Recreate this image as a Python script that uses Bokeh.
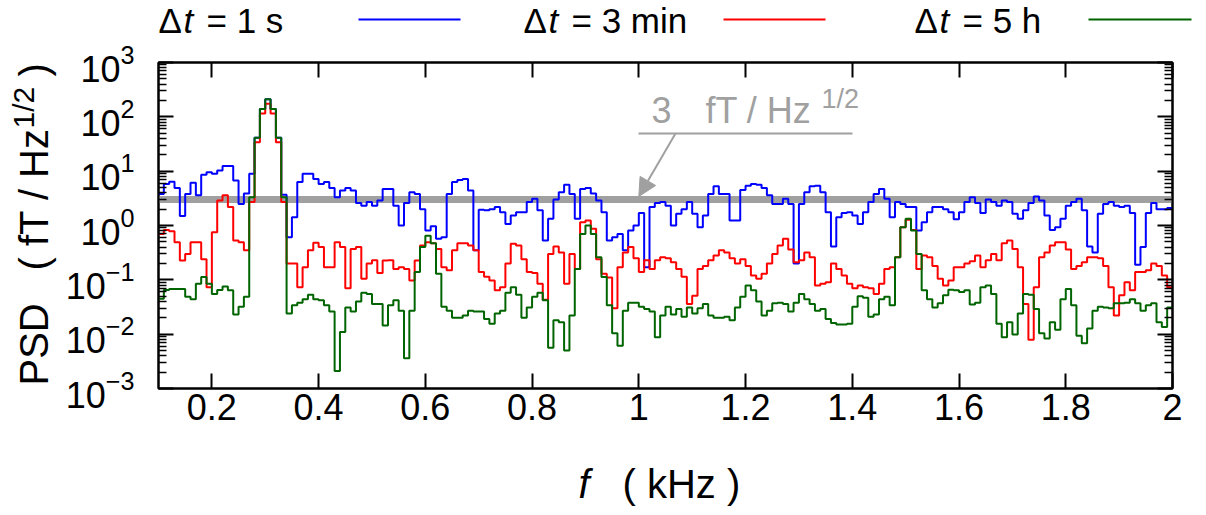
import math
from bokeh.plotting import figure
from bokeh.layouts import column, row
from bokeh.models import (Range1d, LinearAxis, LogAxis, FixedTicker, Plot,
                          CustomJSTickFormatter, Label, Arrow, NormalHead)
from bokeh.embed import file_html
from bokeh.resources import INLINE

# ---------------- data ----------------
freq = [round(0.10 + 0.01 * i, 2) for i in range(190)]   # bin start (kHz)
freq_end = 2.0

psd_1s = [
    3.8, 5.8, 6.4, 4.9, 1.5, 3.8, 6.1, 3.6, 8.6, 9.6,
    9.0, 10.3, 12.4, 12.4, 6.7, 2.5, 3.9, 9.0, 41, 140,
    210, 140, 41, 3.7, 0.61, 1.42, 6.3, 9.0, 9.0, 7.2,
    5.8, 6.3, 4.9, 3.3, 4.4, 4.9, 4.4, 2.6, 2.3, 2.7,
    2.3, 2.9, 4.7, 4.7, 2.3, 1.0, 2.6, 4.1, 3.8, 2.0,
    0.81, 0.97, 0.57, 0.61, 3.8, 6.3, 6.9, 7.2, 4.4, 0.35,
    1.94, 1.9, 2.0, 2.2, 1.76, 1.07, 1.53, 1.76, 1.76, 2.7,
    3.1, 1.9, 0.53, 1.33, 3.0, 4.1, 5.6, 3.8, 1.33, 4.7,
    4.9, 3.9, 2.9, 1.76, 0.53, 0.61, 0.70, 0.35, 0.81, 1.0,
    1.7, 0.17, 2.2, 2.6, 2.7, 2.3, 1.0, 1.65, 2.0, 2.7,
    1.65, 0.93, 1.53, 3.8, 5.3, 3.8, 3.8, 1.24, 1.24, 4.5,
    5.4, 5.8, 5.6, 4.9, 3.6, 2.5, 2.5, 3.1, 2.5, 0.20,
    2.5, 4.1, 5.3, 5.4, 4.1, 1.76, 0.41, 1.42, 1.7, 1.76,
    1.53, 1.07, 1.76, 2.7, 3.8, 4.7, 3.1, 1.42, 2.7, 2.5,
    2.2, 2.2, 0.81, 1.15, 1.76, 2.2, 2.2, 2.0, 1.76, 1.3,
    1.76, 2.7, 3.3, 2.6, 1.7, 3.0, 2.7, 2.3, 2.9, 2.7,
    1.65, 1.33, 1.9, 2.6, 3.4, 2.9, 1.53, 0.83, 0.93, 1.33,
    2.3, 2.7, 3.1, 1.9, 0.41, 0.32, 1.65, 2.5, 2.7, 2.3,
    2.2, 2.3, 1.7, 0.19, 0.40, 1.7, 2.6, 2.0, 2.0, 2.1,
]

psd_3min = [
    0.70, 0.83, 0.78, 0.49, 0.227, 0.30, 0.49, 0.49, 0.24, 0.073,
    0.75, 2.9, 3.6, 2.2, 0.53, 0.49, 0.35, 2.7, 34, 115,
    175, 115, 34, 2.7, 0.20, 0.20, 0.073, 0.17, 0.35, 0.48,
    0.40, 0.17, 0.17, 0.49, 0.40, 0.07, 0.37, 0.40, 0.105, 0.20,
    0.23, 0.133, 0.227, 0.23, 0.158, 0.171, 0.158, 0.097, 0.227, 0.43,
    0.49, 0.47, 0.37, 0.17, 0.15, 0.35, 0.47, 0.47, 0.43, 0.35,
    0.14, 0.114, 0.097, 0.064, 0.073, 0.20, 0.46, 0.43, 0.24, 0.14,
    0.133, 0.085, 0.043, 0.30, 0.41, 0.32, 0.085, 0.30, 0.158, 1.15,
    1.24, 0.87, 0.24, 0.13, 0.11, 0.03, 0.17, 0.32, 0.40, 0.25,
    0.14, 0.23, 0.158, 0.23, 0.26, 0.25, 0.21, 0.158, 0.114, 0.036,
    0.051, 0.158, 0.18, 0.23, 0.28, 0.35, 0.32, 0.25, 0.20, 0.24,
    0.18, 0.12, 0.105, 0.129, 0.20, 0.30, 0.43, 0.57, 0.36, 0.21,
    0.23, 0.32, 0.26, 0.079, 0.085, 0.09, 0.20, 0.158, 0.12, 0.085,
    0.07, 0.079, 0.073, 0.07, 0.055, 0.085, 0.158, 0.17, 0.26, 0.93,
    1.27, 0.83, 0.158, 0.28, 0.26, 0.18, 0.105, 0.079, 0.097, 0.17,
    0.17, 0.20, 0.22, 0.28, 0.17, 0.23, 0.30, 0.23, 0.47, 0.53,
    0.37, 0.17, 0.036, 0.0079, 0.073, 0.26, 0.32, 0.43, 0.49, 0.49,
    0.36, 0.158, 0.18, 0.21, 0.26, 0.26, 0.25, 0.18, 0.073, 0.022,
    0.052, 0.09, 0.064, 0.14, 0.14, 0.15, 0.20, 0.18, 0.12, 0.073,
]

psd_5h = [
    0.045, 0.065, 0.068, 0.068, 0.068, 0.049, 0.044, 0.085, 0.113, 0.085,
    0.055, 0.065, 0.075, 0.064, 0.023, 0.032, 0.049, 3.3, 41, 140,
    210, 140, 41, 3.3, 0.024, 0.034, 0.038, 0.044, 0.053, 0.044,
    0.042, 0.034, 0.026, 0.0021, 0.011, 0.031, 0.026, 0.040, 0.058, 0.055,
    0.036, 0.036, 0.0145, 0.034, 0.042, 0.027, 0.0036, 0.027, 0.14, 0.40,
    0.65, 0.47, 0.129, 0.032, 0.027, 0.02, 0.02, 0.022, 0.027, 0.026,
    0.026, 0.019, 0.0155, 0.024, 0.027, 0.058, 0.073, 0.053, 0.02, 0.031,
    0.049, 0.058, 0.042, 0.0056, 0.018, 0.0166, 0.005, 0.022, 0.158, 0.70,
    1.0, 0.70, 0.26, 0.113, 0.034, 0.0104, 0.0061, 0.027, 0.038, 0.038,
    0.032, 0.029, 0.026, 0.0088, 0.022, 0.032, 0.023, 0.029, 0.021, 0.031,
    0.024, 0.030, 0.036, 0.022, 0.02, 0.02, 0.021, 0.018, 0.031, 0.049,
    0.079, 0.064, 0.040, 0.022, 0.027, 0.037, 0.038, 0.036, 0.026, 0.038,
    0.055, 0.044, 0.036, 0.027, 0.029, 0.019, 0.016, 0.015, 0.015, 0.0155,
    0.032, 0.05, 0.047, 0.021, 0.023, 0.044, 0.049, 0.034, 0.26, 0.93,
    1.33, 0.81, 0.30, 0.064, 0.044, 0.031, 0.037, 0.052, 0.066, 0.064,
    0.06, 0.064, 0.035, 0.038, 0.073, 0.079, 0.055, 0.0155, 0.0088, 0.0166,
    0.0099, 0.024, 0.055, 0.053, 0.029, 0.0104, 0.0083, 0.0166, 0.012, 0.044,
    0.068, 0.034, 0.0094, 0.0068, 0.0127, 0.027, 0.032, 0.031, 0.030, 0.037,
    0.037, 0.038, 0.044, 0.037, 0.027, 0.034, 0.037, 0.0166, 0.0136, 0.031,
]

series_labels = ["1 s", "3 min", "5 h"]
series_colors = ["#0000ff", "#ff0000", "#006400"]
ref_level = 3.0
ref_label = "fT / Hz"
x_ticks = [0.2, 0.4, 0.6, 0.8, 1.0, 1.2, 1.4, 1.6, 1.8, 2.0]
y_exponents = [-3, -2, -1, 0, 1, 2, 3]

# ---------------- layout (page pixels) ----------------
FONT = "Liberation Sans"
FS, FS_SUP = 36, 27            # tick / annotation font sizes (px)
FS_LEG = 35                    # legend font size (px)
FT_T, FT_SUP = 40, 30          # axis-title font sizes (px)
MID = 0.3465                   # alphabetic baseline -> box middle (x size)
GRAY = "#a0a0a0"
TOTAL_W = 1200
LEG_H = 40                      # legend strip: page y 0..40
MID_TOP, MID_H = 40, 408        # middle row: page y 40..448
YT_W = 60                       # y-title strip: page x 0..60
XT_TOP, XT_H = 448, 62          # x-title strip: page y 448..510
FL, FR, FT, FB = 158, 1172, 62, 388   # plot frame in page px
X0, X1 = 0.1, 2.0
E0, E1 = -3, 3
DEC = (FB - FT) / (E1 - E0)
HAS_FRAME_ALIGN = "frame_align" in Plot.properties()


def dx(px):
    return X0 + (px - FL) * (X1 - X0) / (FR - FL)


def dy(py):
    return 10 ** (E1 - (py - FT) / DEC)


def text_fig(w, h, x0, y0):
    """A bare figure whose data coordinates equal page pixels."""
    f = figure(width=w, height=h, x_range=Range1d(x0, x0 + w),
               y_range=Range1d(y0 + h, y0), output_backend="svg",
               toolbar_location=None, x_axis_location=None,
               y_axis_location=None, min_border=0, min_border_left=0,
               min_border_right=0, min_border_top=0, min_border_bottom=0)
    f.outline_line_color = None
    f.background_fill_color = "white"
    f.border_fill_color = "white"
    if HAS_FRAME_ALIGN:
        f.frame_align = False
    for g in f.grid:
        g.visible = False
    return f


def put(f, text, x, y, size=FS, color="black", style="normal",
        align="left", angle=0.0):
    f.add_layout(Label(x=x, y=y, text=text, text_font=FONT,
                       text_font_size=f"{size}px", text_color=color,
                       text_font_style=style, text_align=align,
                       text_baseline="middle", angle=angle))


def put_base(f, text, px, base, size=FS, **kw):
    """Horizontal text whose alphabetic baseline lies at page y = base."""
    put(f, text, px, base - MID * size, size=size, **kw)


# ---------------- main plot ----------------
MAIN_W = TOTAL_W - YT_W
p = figure(width=MAIN_W, height=MID_H, x_range=Range1d(X0, X1),
           y_range=Range1d(10.0 ** E0, 10.0 ** E1), y_axis_type="log",
           output_backend="svg", toolbar_location=None,
           min_border_left=FL - YT_W, min_border_right=TOTAL_W - FR,
           min_border_top=FT - MID_TOP, min_border_bottom=MID_TOP + MID_H - FB)
p.background_fill_color = "white"
p.border_fill_color = "white"
p.outline_line_color = "black"
p.outline_line_width = 2
p.xgrid.visible = False
p.ygrid.visible = False
if HAS_FRAME_ALIGN:
    p.frame_align = False

blank = CustomJSTickFormatter(code="return ''")
yt_major = [10.0 ** e for e in y_exponents]
yt_minor = [m * 10.0 ** e for e in y_exponents[:-1] for m in range(2, 10)]


def style_axis(ax, minor=True, hidden=False):
    ax.axis_line_color = "black"
    ax.axis_line_width = 2
    ax.major_tick_in = 15
    ax.major_tick_out = 0
    ax.major_tick_line_width = 2
    ax.major_tick_line_color = "black"
    if minor:
        ax.minor_tick_in = 8
        ax.minor_tick_out = 0
        ax.minor_tick_line_width = 1.5
        ax.minor_tick_line_color = "black"
    else:
        ax.minor_tick_line_color = None
    if hidden:
        ax.formatter = blank
        ax.major_label_text_font_size = "1px"
        ax.major_label_standoff = 0


xa = p.xaxis[0]
xa.ticker = FixedTicker(ticks=x_ticks)
xa.formatter = CustomJSTickFormatter(code="return (Math.round(tick*10)/10).toString()")
xa.major_label_text_font = FONT
xa.major_label_text_font_size = f"{FS}px"
xa.major_label_text_color = "black"
xa.major_label_standoff = 5
style_axis(xa, minor=False)

ya = p.yaxis[0]
ya.ticker = FixedTicker(ticks=yt_major, minor_ticks=yt_minor)
ya.major_label_text_font = FONT
ya.major_label_text_font_size = f"{FS}px"
ya.major_label_text_color = "black"
ya.major_label_standoff = 24
style_axis(ya)

top = LinearAxis(ticker=FixedTicker(ticks=x_ticks))
style_axis(top, minor=False, hidden=True)
p.add_layout(top, "above")
right = LogAxis(ticker=FixedTicker(ticks=yt_major, minor_ticks=yt_minor))
style_axis(right, hidden=True)
p.add_layout(right, "right")

# reference level
p.line([X0, X1], [ref_level, ref_level], line_color=GRAY, line_width=7)

# step curves
xs = freq + [freq_end]
for vals, col in zip([psd_1s, psd_3min, psd_5h], series_colors):
    p.step(xs, vals + [vals[-1]], mode="after", line_color=col, line_width=2)

# annotation of the reference level
p.line([dx(638), dx(852)], [dy(133), dy(133)], line_color=GRAY, line_width=2)
p.add_layout(Arrow(end=NormalHead(size=18, fill_color=GRAY, line_color=GRAY),
                   x_start=dx(675), y_start=dy(133), x_end=1.0, y_end=dy(196),
                   line_color=GRAY, line_width=2))
put(p, f"{ref_level:g}", dx(651), dy(122 - MID * FS), color=GRAY)
put(p, ref_label, dx(705), dy(122 - MID * FS), color=GRAY)
put(p, "1/2", dx(821), dy(108 - MID * FS_SUP), size=FS_SUP, color=GRAY)

# ---------------- legend strip ----------------
leg = text_fig(TOTAL_W, LEG_H, 0, 0)
entries = [(158, 358, 460), (523, 723, 825), (914, 1088, 1191)]
for (tx, l0, l1), name, col in zip(entries, series_labels, series_colors):
    put_base(leg, "\u0394", tx, 32.5, size=FS_LEG)
    put_base(leg, "t", tx + 25, 32.5, size=FS_LEG, style="italic")
    put_base(leg, "= " + name, tx + 48, 32.5, size=FS_LEG)
    leg.line([l0, l1], [19, 19], line_color=col, line_width=2)

# ---------------- y-title strip (rotated, centred pieces) ----------------
yt = text_fig(YT_W, MID_H, 0, MID_TOP)
A = math.pi / 2
BASE_X, SUP_X = 47, 33
pieces = [("PSD", 385, FT_T, BASE_X, 2.056),
          ("( fT / Hz", 270, FT_T, BASE_X, 3.556),
          ("1/2", 128, FT_SUP, SUP_X, 1.39),
          (")", 76, FT_T, BASE_X, 0.333)]
for txt, start, size, bx, em in pieces:
    put(yt, txt, bx - MID * size, start - em * size / 2, size=size,
        align="center", angle=A)

# ---------------- x-title strip ----------------
xt = text_fig(TOTAL_W, XT_H, 0, XT_TOP)
put_base(xt, "f", 578, 497, size=FT_T, style="italic")
put_base(xt, "( kHz )", 622, 497, size=FT_T)

layout = column(leg, row(yt, p), xt)
open("out.html", "w").write(file_html(layout, INLINE))
